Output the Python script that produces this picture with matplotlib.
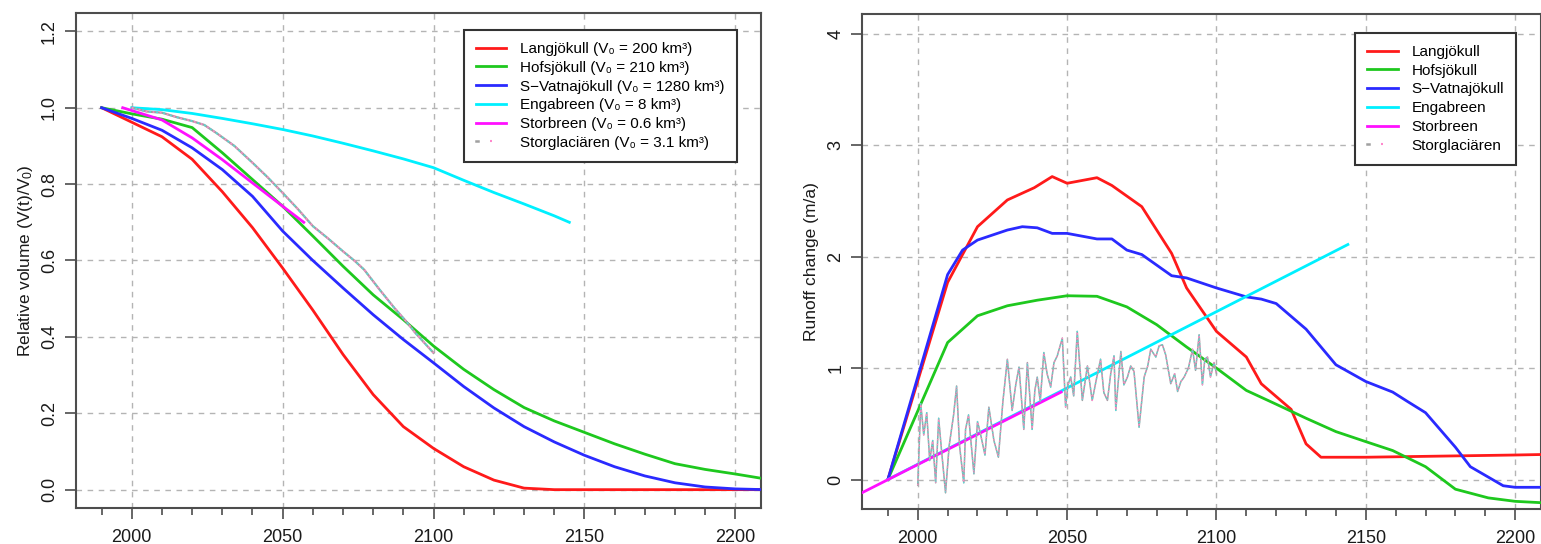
import matplotlib
matplotlib.use("Agg")
from matplotlib import pyplot as plt
from matplotlib.ticker import MultipleLocator, FixedLocator
from matplotlib.lines import Line2D
from matplotlib.legend_handler import HandlerTuple

plt.rcParams['font.family'] = ['Liberation Sans', 'DejaVu Sans']
plt.rcParams['mathtext.default'] = 'regular'

# ---- left panel: relative volume ----
lang_vol_year = [1990, 2000, 2010, 2020, 2030, 2040, 2050, 2060, 2070, 2080,
                 2090, 2100, 2110, 2120, 2130, 2140, 2210]
lang_vol = [1.0, 0.962, 0.924, 0.865, 0.78, 0.686, 0.58, 0.47, 0.354, 0.249,
            0.165, 0.108, 0.06, 0.025, 0.004, 0.0, 0.0]

dec_year = list(range(1990, 2211, 10))
hofs_vol = [1.0, 0.984, 0.97, 0.948, 0.882, 0.812, 0.742, 0.664, 0.585, 0.51,
            0.445, 0.376, 0.315, 0.262, 0.215, 0.18, 0.15, 0.12, 0.093, 0.068,
            0.053, 0.041, 0.028]
vatna_vol = [1.0, 0.972, 0.941, 0.895, 0.838, 0.768, 0.677, 0.60, 0.528, 0.458,
             0.393, 0.332, 0.27, 0.214, 0.165, 0.125, 0.09, 0.06, 0.036, 0.018,
             0.007, 0.002, 0.0]

enga_vol_year = [2000, 2010, 2020, 2030, 2040, 2050, 2060, 2070, 2080, 2090,
                 2100, 2110, 2120, 2130, 2140, 2145]
enga_vol = [1.0, 0.995, 0.985, 0.972, 0.958, 0.943, 0.926, 0.907, 0.887, 0.866,
            0.843, 0.81, 0.778, 0.748, 0.717, 0.70]

storb_vol_year = [1997, 2010, 2020, 2030, 2040, 2050, 2057]
storb_vol = [1.0, 0.968, 0.921, 0.864, 0.803, 0.742, 0.70]

storg_vol_year = [2000, 2005, 2010, 2015, 2020, 2024, 2028, 2034, 2040, 2045, 2050,
                  2055, 2060, 2065, 2070, 2074, 2077, 2082, 2087, 2091, 2094, 2100]
storg_vol = [1.0, 0.99, 0.987, 0.975, 0.965, 0.955, 0.934, 0.9, 0.856, 0.818, 0.777,
             0.735, 0.69, 0.658, 0.624, 0.598, 0.576, 0.525, 0.476, 0.44, 0.41, 0.358]

# ---- right panel: runoff change ----
lang_run_year = [1990, 2010, 2020, 2030, 2039, 2045, 2050, 2060, 2065, 2075, 2085,
                 2090, 2100, 2110, 2115, 2125, 2130, 2135, 2150, 2200, 2210]
lang_run = [0, 1.77, 2.27, 2.51, 2.62, 2.72, 2.66, 2.71, 2.64, 2.45, 2.03,
            1.72, 1.33, 1.10, 0.86, 0.63, 0.32, 0.20, 0.20, 0.22, 0.225]

hofs_run_year = [1990, 2010, 2020, 2030, 2040, 2050, 2060, 2070, 2080, 2090, 2100,
                 2110, 2120, 2130, 2140, 2150, 2159, 2170, 2180, 2191, 2200, 2210]
hofs_run = [0, 1.23, 1.47, 1.56, 1.61, 1.65, 1.645, 1.55, 1.39, 1.19, 1.00,
            0.80, 0.676, 0.55, 0.43, 0.34, 0.26, 0.115, -0.087, -0.165, -0.196, -0.21]

vatna_run_year = [1990, 2010, 2015, 2020, 2030, 2035, 2040, 2045, 2050, 2060, 2065,
                  2070, 2075, 2085, 2090, 2100, 2110, 2115, 2120, 2130, 2140, 2150,
                  2159, 2164, 2170, 2180, 2185, 2196, 2200, 2210]
vatna_run = [0, 1.84, 2.06, 2.15, 2.24, 2.27, 2.26, 2.21, 2.21, 2.16, 2.16,
             2.06, 2.02, 1.83, 1.81, 1.72, 1.64, 1.62, 1.58, 1.35, 1.03, 0.88,
             0.785, 0.70, 0.60, 0.29, 0.115, -0.056, -0.07, -0.07]

enga_run_year = [1990, 2144]
enga_run = [0, 2.11]

storb_run_year = [1980, 2048]
storb_run = [-0.137, 0.785]

storg_run_year = [2000, 2001, 2002, 2003, 2004, 2005, 2006, 2007, 2008, 2009.3,
                  2010.5, 2012, 2013, 2014, 2015.4, 2016, 2017, 2018.8, 2020, 2021,
                  2022.5, 2023.8, 2025.5, 2027, 2028.5, 2030, 2031.6, 2032.8, 2033.9, 2035.5,
                  2036.7, 2038.3, 2039.2, 2040, 2041, 2042.2, 2043.3, 2044.5, 2045.6, 2046.7,
                  2048.4, 2049.5, 2050.3, 2051.2, 2052.2, 2053.4, 2055.1, 2056.8, 2058.4, 2059.8,
                  2061.2, 2062.3, 2063.5, 2064.6, 2065.7, 2066.3, 2068, 2069, 2070.2, 2071.3,
                  2072.4, 2074.1, 2075.8, 2077, 2078, 2079.7, 2080.8, 2081.9, 2083, 2084.7,
                  2086, 2087, 2088.1, 2089.2, 2090.6, 2092, 2093, 2094.2, 2095.3, 2096.1,
                  2097, 2098, 2099.2, 2100]
storg_run = [-0.05, 0.68, 0.40, 0.60, 0.17, 0.35, -0.03, 0.55, 0.25, -0.12,
             0.30, 0.58, 0.84, 0.30, -0.03, 0.45, 0.58, 0.05, 0.52, 0.41,
             0.22, 0.65, 0.35, 0.20, 0.70, 1.08, 0.62, 0.85, 1.01, 0.45,
             1.05, 0.45, 0.80, 0.92, 0.70, 1.14, 0.95, 0.83, 1.05, 1.11,
             1.27, 0.65, 0.85, 0.92, 0.75, 1.33, 0.71, 1.02, 0.71, 0.90,
             1.08, 0.78, 0.71, 0.95, 1.11, 0.62, 1.15, 0.85, 0.92, 1.02,
             0.97, 0.47, 0.92, 1.02, 1.17, 1.10, 1.20, 1.21, 1.12, 0.86,
             0.95, 0.79, 0.88, 0.92, 1.0, 1.17, 0.98, 1.30, 0.85, 1.08,
             1.10, 0.92, 1.05, 0.95]

names = ["Langjökull", "Hofsjökull", "S\u2212Vatnajökull", "Engabreen", "Storbreen", "Storglaciären"]
v0 = ["200", "210", "1280", "8", "0.6", "3.1"]
colors = ["#ff1a1a", "#1ec81e", "#2a2aff", "#00f0ff", "#ff10ff"]

fig = plt.figure(figsize=(15.41, 5.44), dpi=100)
ax1 = fig.add_axes([0.0493, 0.0662, 0.4445, 0.9099])
ax2 = fig.add_axes([0.5597, 0.0643, 0.4400, 0.9100])

lw = 2.0


def storg_line(ax, x, y, w=1.3):
    ax.plot(x, y, color="#a0a0a0", lw=w, zorder=3)
    ax.plot(x, y, color="#ff88cc", lw=w * 0.8, ls=(0, (1, 3)), zorder=3)
    ax.plot(x, y, color="#55dddd", lw=w * 0.8, ls=(2, (1, 3)), zorder=3)


ax1.plot(lang_vol_year, lang_vol, color=colors[0], lw=lw, zorder=3)
ax1.plot(dec_year, hofs_vol, color=colors[1], lw=lw, zorder=3)
ax1.plot(dec_year, vatna_vol, color=colors[2], lw=lw, zorder=3)
ax1.plot(enga_vol_year, enga_vol, color=colors[3], lw=lw, zorder=3)
ax1.plot(storb_vol_year, storb_vol, color=colors[4], lw=lw, zorder=3)
storg_line(ax1, storg_vol_year, storg_vol, 1.6)

ax2.plot(lang_run_year, lang_run, color=colors[0], lw=lw, zorder=3)
ax2.plot(hofs_run_year, hofs_run, color=colors[1], lw=lw, zorder=3)
ax2.plot(vatna_run_year, vatna_run, color=colors[2], lw=lw, zorder=3)
ax2.plot(enga_run_year, enga_run, color=colors[3], lw=lw, zorder=3)
ax2.plot(storb_run_year, storb_run, color=colors[4], lw=lw, zorder=3)
storg_line(ax2, storg_run_year, storg_run, 1.1)

frame_c = "#4d4d4d"
for ax in (ax1, ax2):
    ax.set_xlim(1981.5, 2208.5)
    ax.xaxis.set_major_locator(MultipleLocator(50))
    ax.xaxis.set_minor_locator(MultipleLocator(10))
    ax.grid(True, which="major", color="#b4b4b4", ls=(0, (4, 4)), lw=1.0, zorder=0)
    ax.tick_params(axis="x", which="major", length=8, width=1.2, color=frame_c,
                   labelsize=13, pad=7, labelcolor="#1a1a1a")
    ax.tick_params(axis="x", which="minor", length=5, width=1.2, color=frame_c)
    ax.tick_params(axis="y", length=8, width=1.2, color=frame_c, labelsize=13,
                   pad=5, labelrotation=90, labelcolor="#1a1a1a")
    for s in ax.spines.values():
        s.set_color(frame_c)
        s.set_linewidth(1.5)

ax1.set_ylim(-0.048, 1.248)
ax1.yaxis.set_major_locator(FixedLocator([0, 0.2, 0.4, 0.6, 0.8, 1.0, 1.2]))
ax1.set_yticklabels(["0.0", "0.2", "0.4", "0.6", "0.8", "1.0", "1.2"], va="center")
ax1.set_ylabel("Relative volume (V(t)/V$_0$)", fontsize=12.5, color="#1a1a1a", labelpad=4)

ax2.set_ylim(-0.265, 4.18)
ax2.yaxis.set_major_locator(FixedLocator([0, 1, 2, 3, 4]))
ax2.set_yticklabels(["0", "1", "2", "3", "4"], va="center")
ax2.set_ylabel("Runoff change (m/a)", fontsize=12.5, color="#1a1a1a", labelpad=6)


def legend_handles():
    hs = [Line2D([], [], color=c, lw=lw) for c in colors]
    g = Line2D([], [], color="#a0a0a0", lw=1.8)
    p = Line2D([], [], color="#ff88cc", lw=1.5, ls=(0, (1, 3)))
    q = Line2D([], [], color="#55dd88", lw=1.5, ls=(2, (1, 3)))
    hs.append((g, p, q))
    return hs


labels1 = [f"{n} (V\u2080 = {v} km\u00b3)" for n, v in zip(names, v0)]
for ax, labels, anchor in ((ax1, labels1, (0.965, 0.966)), (ax2, names, (0.964, 0.962))):
    leg = ax.legend(legend_handles(), labels, loc="upper right", bbox_to_anchor=anchor,
                    borderaxespad=0, fontsize=11, frameon=True, fancybox=False,
                    handlelength=2.0, handletextpad=0.9, borderpad=0.8, labelspacing=0.31,
                    handler_map={tuple: HandlerTuple(ndivide=None)})
    leg.get_frame().set_edgecolor("#333333")
    leg.get_frame().set_linewidth(1.5)
    leg.get_frame().set_alpha(1)
    leg.set_zorder(5)

fig.savefig("out.png", dpi=100)
